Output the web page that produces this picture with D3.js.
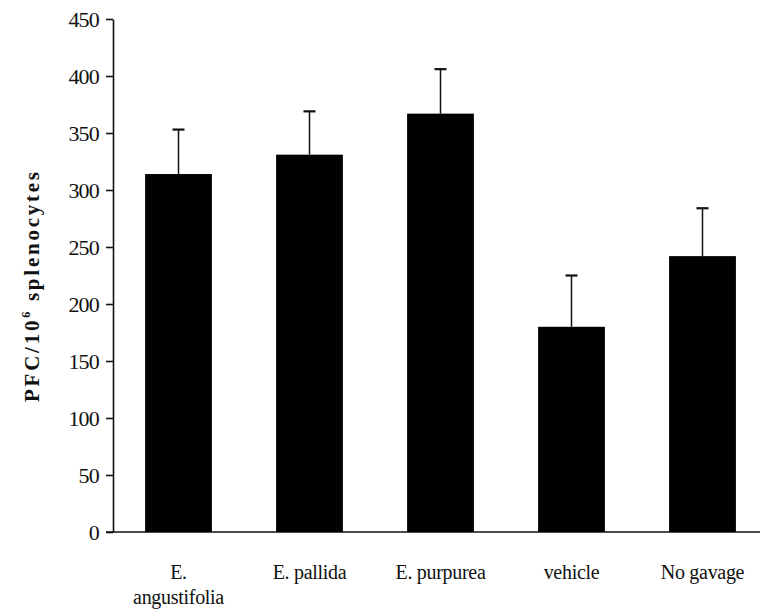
<!DOCTYPE html>
<html>
<head>
<meta charset="utf-8">
<script src="https://cdn.jsdelivr.net/npm/d3@7"></script>
<style>
  html, body { margin: 0; padding: 0; background: #fff; }
  svg { display: block; }
</style>
</head>
<body>
<div id="chart"></div>
<script>
const categories = [['E.', 'angustifolia'], ['E. pallida'], ['E. purpurea'], ['vehicle'], ['No gavage']];
const means = [314, 331, 367, 180, 242];
const errors = [39, 38, 39, 45, 42];
const yTicks = [0, 50, 100, 150, 200, 250, 300, 350, 400, 450];

const WIDTH = 760;
const HEIGHT = 616;
const FONT = '"Liberation Serif", "Times New Roman", serif';

function translate(x, y) {
  return `translate(${x}, ${y})`;
}

const svg = d3.select('#chart').append('svg')
  .attr('width', WIDTH)
  .attr('height', HEIGHT);

const x = d3.scaleBand()
  .domain(d3.range(categories.length))
  .range([113, 768])
  .paddingInner(0.49)
  .paddingOuter(0.245);

const y = d3.scaleLinear()
  .domain([0, 450])
  .range([532, 19]);

const axisX = 113;

// y axis
const yAxis = d3.axisLeft(y)
  .tickValues(yTicks)
  .tickSize(7)
  .tickPadding(7)
  .tickSizeOuter(0);

const gy = svg.append('g')
  .attr('transform', translate(axisX, 0))
  .call(yAxis);

gy.select('.domain').attr('stroke', '#111').attr('stroke-width', 1.6);
gy.selectAll('.tick line').attr('stroke', '#111').attr('stroke-width', 1.6);
gy.selectAll('.tick text')
  .attr('font-family', FONT)
  .attr('font-size', 22)
  .attr('letter-spacing', -0.8)
  .attr('fill', '#111');

// baseline
svg.append('line')
  .attr('x1', axisX - 7)
  .attr('x2', WIDTH)
  .attr('y1', y(0))
  .attr('y2', y(0))
  .attr('stroke', '#111')
  .attr('stroke-width', 1.6);

// bars
svg.selectAll('.bar')
  .data(means)
  .enter().append('rect')
  .attr('class', 'bar')
  .attr('x', (d, i) => x(i))
  .attr('y', d => y(d))
  .attr('width', x.bandwidth())
  .attr('height', d => y(0) - y(d))
  .attr('fill', '#000');

// error bars (upper only)
const err = svg.selectAll('.err')
  .data(means)
  .enter().append('g')
  .attr('class', 'err')
  .attr('transform', (d, i) => translate(x(i) + x.bandwidth() / 2, 0));

err.append('line')
  .attr('y1', d => y(d))
  .attr('y2', (d, i) => y(d + errors[i]))
  .attr('stroke', '#111')
  .attr('stroke-width', 1.5);

err.append('line')
  .attr('x1', -6)
  .attr('x2', 6)
  .attr('y1', (d, i) => y(d + errors[i]))
  .attr('y2', (d, i) => y(d + errors[i]))
  .attr('stroke', '#111')
  .attr('stroke-width', 2.2);

// category labels
const labels = svg.selectAll('.cat')
  .data(categories)
  .enter().append('text')
  .attr('class', 'cat')
  .attr('text-anchor', 'middle')
  .attr('font-family', FONT)
  .attr('font-size', 20)
  .attr('letter-spacing', -0.3)
  .attr('fill', '#111')
  .attr('transform', (d, i) => translate(x(i) + x.bandwidth() / 2, 579));

labels.selectAll('tspan')
  .data(d => d)
  .enter().append('tspan')
  .attr('x', 0)
  .attr('dy', (d, i) => i === 0 ? 0 : 25)
  .text(d => d);

// y axis title
const title = svg.append('text')
  .attr('transform', translate(39, 287) + ' rotate(-90)')
  .attr('text-anchor', 'middle')
  .attr('font-family', FONT)
  .attr('font-weight', 'bold')
  .attr('font-size', 21)
  .attr('fill', '#111')
  .attr('textLength', 230)
  .attr('lengthAdjust', 'spacing');

title.append('tspan').text('PFC/10');
title.append('tspan').attr('font-size', 12).attr('dy', -9).text('6');
title.append('tspan').attr('dy', 9).text('  splenocytes');
</script>
</body>
</html>
